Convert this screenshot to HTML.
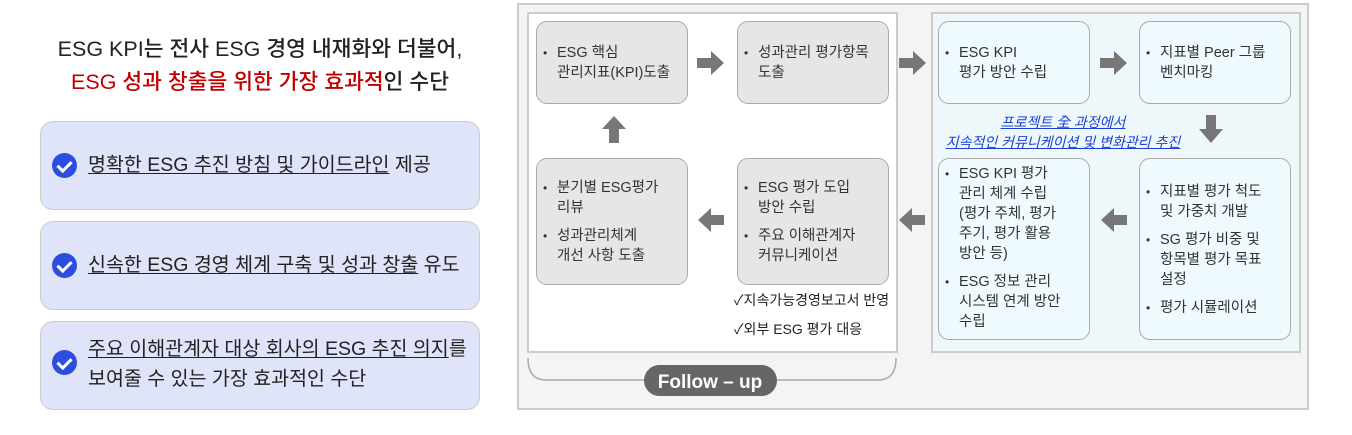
<!DOCTYPE html>
<html><head><meta charset="utf-8"><style>
*{margin:0;padding:0;box-sizing:border-box}
body{width:1352px;height:435px;background:#fff;position:relative;overflow:hidden;font-family:"Liberation Sans","Noto Sans CJK KR",sans-serif;color:#222}
.a{position:absolute}
.t{font-size:21.5px;font-weight:500;text-align:center;width:460px;left:30px;white-space:nowrap}
.cb{left:40px;width:440px;height:89px;background:#dfe4f8;border:1.5px solid #ccc;border-radius:13px}
.ck{left:52px;width:25px;height:25px;border-radius:50%;background:#2b4de0}
.ck:after{content:"";position:absolute;left:8px;top:5px;width:6px;height:11px;border:solid #fff;border-width:0 3px 3px 0;transform:rotate(45deg)}
.ct{left:88px;font-size:19.5px;line-height:30px;white-space:nowrap}
.ct u{text-decoration:underline;text-underline-offset:2px}
.bx{border:1.5px solid #aaa;border-radius:11px;font-size:14.5px;line-height:20px;color:#333;white-space:nowrap}
.g{background:#e6e6e6}.c{background:#eefafd}
.bx ul{list-style:none;padding-left:20px}
.bx li{position:relative}
.bx li:before{content:"•";position:absolute;left:-14px;font-size:12px}
.bx li+li{margin-top:8px}
</style></head><body>
<div class="a t" style="top:32px">ESG KPI는 전사 ESG 경영 내재화와 더불어,</div>
<div class="a t" style="top:65px"><span style="color:#c00000">ESG 성과 창출을 위한 가장 효과적</span>인 수단</div>

<div class="a cb" style="top:121px"></div>
<div class="a ck" style="top:153px"></div>
<div class="a ct" style="top:150px"><u>명확한 ESG 추진 방침 및 가이드라인</u> 제공</div>
<div class="a cb" style="top:221px"></div>
<div class="a ck" style="top:253px"></div>
<div class="a ct" style="top:250px"><u>신속한 ESG 경영 체계 구축 및 성과 창출</u> 유도</div>
<div class="a cb" style="top:321px"></div>
<div class="a ck" style="top:350px"></div>
<div class="a ct" style="top:334px"><u>주요 이해관계자 대상 회사의 ESG 추진 의지</u>를<br>보여줄 수 있는 가장 효과적인 수단</div>

<div class="a" style="left:517px;top:3px;width:792px;height:407px;background:#f4f4f4;border:2px solid #ccc"></div>
<div class="a" style="left:527px;top:12px;width:371px;height:341px;background:#fff;border:2px solid #ccc"></div>
<div class="a" style="left:931px;top:12px;width:370px;height:341px;background:#eef8fb;border:2px solid #ccc"></div>

<div class="a bx g" style="left:536px;top:21px;width:152px;height:83px;padding:21px 0 0 0"><ul><li>ESG 핵심<br>관리지표(KPI)도출</li></ul></div>
<div class="a bx g" style="left:737px;top:21px;width:152px;height:83px;padding:21px 0 0 0"><ul><li>성과관리 평가항목<br>도출</li></ul></div>
<div class="a bx g" style="left:536px;top:158px;width:152px;height:127px;padding:19px 0 0 0"><ul><li>분기별 ESG평가<br>리뷰</li><li>성과관리체계<br>개선 사항 도출</li></ul></div>
<div class="a bx g" style="left:737px;top:158px;width:152px;height:127px;padding:19px 0 0 0"><ul><li>ESG 평가 도입<br>방안 수립</li><li>주요 이해관계자<br>커뮤니케이션</li></ul></div>
<div class="a" style="left:734px;top:290px;font-size:14px;color:#222;white-space:nowrap">✓지속가능경영보고서 반영</div>
<div class="a" style="left:734px;top:319px;font-size:14px;color:#222;white-space:nowrap">✓외부 ESG 평가 대응</div>

<div class="a bx c" style="left:938px;top:21px;width:152px;height:83px;padding:21px 0 0 0"><ul><li>ESG KPI<br>평가 방안 수립</li></ul></div>
<div class="a bx c" style="left:1139px;top:21px;width:152px;height:83px;padding:21px 0 0 0"><ul><li>지표별 Peer 그룹<br>벤치마킹</li></ul></div>
<div class="a bx c" style="left:938px;top:158px;width:152px;height:182px;padding:5px 0 0 0"><ul><li>ESG KPI 평가<br>관리 체계 수립<br>(평가 주체, 평가<br>주기,  평가 활용<br>방안 등)</li><li>ESG 정보 관리<br>시스템 연계 방안<br>수립</li></ul></div>
<div class="a bx c" style="left:1139px;top:158px;width:152px;height:182px;padding:23px 0 0 0"><ul><li>지표별 평가 척도<br>및 가중치 개발</li><li>SG 평가 비중 및<br>항목별 평가 목표<br>설정</li><li>평가 시뮬레이션</li></ul></div>

<div class="a" style="left:930px;top:112px;width:266px;text-align:center;font-size:14px;line-height:20px;color:#1a3fd6;font-style:italic;text-decoration:underline;white-space:nowrap">프로젝트 全 과정에서<br>지속적인 커뮤니케이션 및 변화관리 추진</div>

<svg class="a" style="left:0;top:0" width="1352" height="435">
<g fill="#777">
<polygon points="697,58 711,58 711,51 724,63 711,75 711,68 697,68"/>
<polygon points="899,58 913,58 913,51 926,63 913,75 913,68 899,68"/>
<polygon points="1100,58 1114,58 1114,51 1127,63 1114,75 1114,68 1100,68"/>
<polygon points="1206,115 1216,115 1216,129 1223,129 1211,143 1199,129 1206,129"/>
<polygon points="609,143 619,143 619,129 626,129 614,116 602,129 609,129"/>
<polygon points="724,215 711,215 711,208 698,220 711,232 711,225 724,225"/>
<polygon points="925,215 912,215 912,208 899,220 912,232 912,225 925,225"/>
<polygon points="1127,215 1114,215 1114,208 1101,220 1114,232 1114,225 1127,225"/>
</g>
<path d="M528,358 Q528,380 546,380 L878,380 Q896,380 896,358" fill="none" stroke="#aaa" stroke-width="1.5"/>
<rect x="644" y="365" width="133" height="31" rx="15.5" fill="#666"/>
<text x="710" y="388" text-anchor="middle" font-size="19" font-weight="bold" fill="#fff" font-family="Liberation Sans,sans-serif">Follow – up</text>
</svg>
</body></html>
